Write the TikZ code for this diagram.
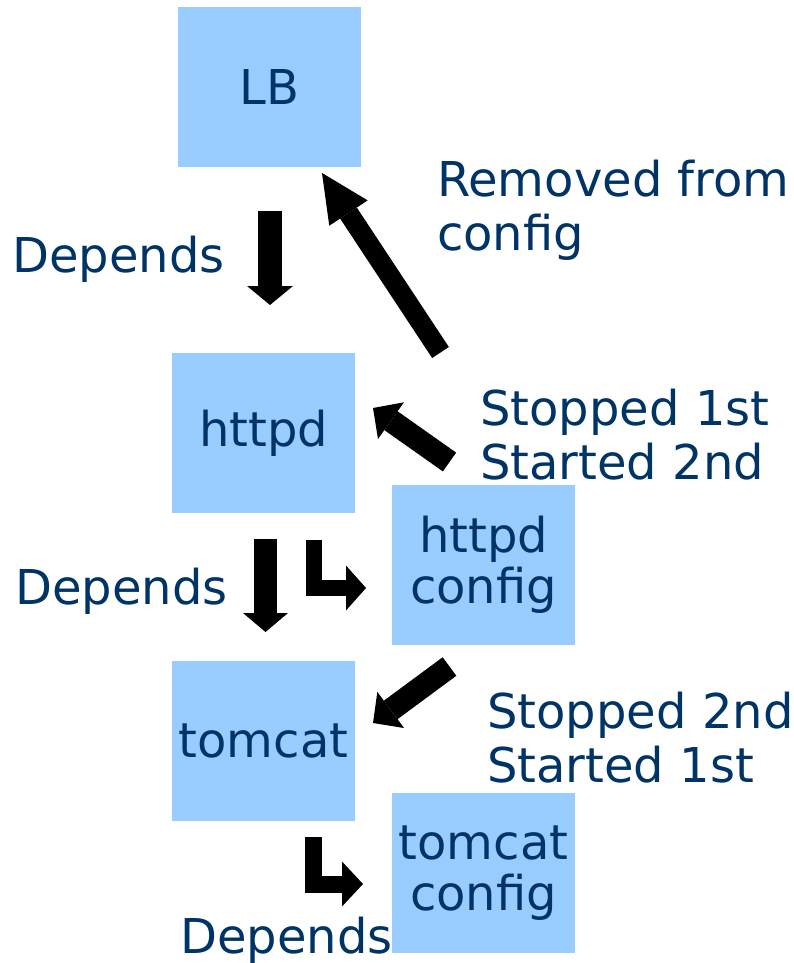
\documentclass[tikz,border=0pt]{standalone}
\usepackage{fontspec}
\setmainfont{DejaVu Sans}
\usetikzlibrary{arrows.meta}
\definecolor{boxblue}{HTML}{99CCFF}
\definecolor{txtblue}{HTML}{003366}
\begin{document}
\begin{tikzpicture}[x=1pt,y=-1pt,
  every node/.style={text=txtblue, inner sep=0pt},
  box/.style={fill=boxblue, minimum width=183pt, minimum height=160pt, align=center,
    font=\fontsize{48}{51}\selectfont},
  lbl/.style={anchor=base west, align=left, font=\fontsize{48}{54}\selectfont},
  blk/.style={line width=#1, line cap=butt, line join=miter, draw=black},
  tip/.style 2 args={-{Triangle[width=#1pt,length=#2pt,line width=0pt]}}
]
\useasboundingbox (0,0) rectangle (794,963);
% boxes
\node[box] (lb) at (269.5,87) {LB};
\node[box] (httpd) at (263.5,433) {\raisebox{-3.5pt}{httpd}};
\node[box] (hconf) at (483.5,565) {httpd\\config};
\node[box] (tomcat) at (263.5,741) {tomcat};
\node[box] (tconf) at (483.5,873) {tomcat\\config};
% labels
\node[lbl] (d1) at (12,272) {Depends};
\node[lbl] (rem) at (437,250) {Removed from\\config};
\node[lbl] (s1) at (480,479) {Stopped 1st\\Started 2nd};
\node[lbl] (d2) at (15,604) {Depends};
\node[lbl] (s2) at (487,782) {Stopped 2nd\\Started 1st};
\node[lbl] (d3) at (180,953) {Depends};
% arrow coordinates
\coordinate (a1s) at (270,211);   \coordinate (a1e) at (270,305);
\coordinate (a2s) at (440.5,352.5); \coordinate (a2e) at (322,173);
\coordinate (a3s) at (449.5,462); \coordinate (a3e) at (373,408);
\coordinate (a4s) at (449.5,666.5); \coordinate (a4e) at (373,723);
\coordinate (a5s) at (265.5,539); \coordinate (a5e) at (265.5,632);
\coordinate (l1s) at (314,540); \coordinate (l1c) at (314,588); \coordinate (l1e) at (366,588);
\coordinate (l2s) at (313,837); \coordinate (l2c) at (313,884); \coordinate (l2e) at (363,884);
% arrows
\draw[blk=24pt, tip={46}{19}] (a1s) -- (a1e);
\draw[blk=20pt, tip={46}{48}] (a2s) -- (a2e);
\draw[blk=23pt, tip={45}{22}] (a3s) -- (a3e);
\draw[blk=23pt, tip={45}{22}] (a4s) -- (a4e);
\draw[blk=23pt, tip={45}{19}] (a5s) -- (a5e);
\draw[blk=16pt, tip={45}{20}] (l1s) -- (l1c) -- (l1e);
\draw[blk=17pt, tip={45}{21}] (l2s) -- (l2c) -- (l2e);
\end{tikzpicture}
\end{document}
